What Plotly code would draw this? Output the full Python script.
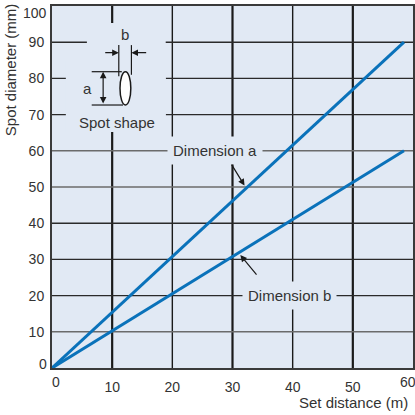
import plotly.graph_objects as go

# data
distance = [0, 58.5]
dim_a = [0, 90]
dim_b = [0, 60]

x_ticks = [0, 10, 20, 30, 40, 50, 60]
y_ticks = [0, 10, 20, 30, 40, 50, 60, 70, 80, 90, 100]
# labels at the axis ends are nudged inwards, drawn separately
x_ticktext = ["" if v in (0, 60) else str(v) for v in x_ticks]
y_ticktext = ["" if v in (0, 100) else str(v) for v in y_ticks]

BG = "#e1e9f4"
INK = "#333333"
BLUE = "#0a72ba"
FONT = "Liberation Sans"

fig = go.Figure()
fig.add_trace(go.Scatter(x=distance, y=dim_a, mode="lines", line=dict(color=BLUE, width=3),
                         name="Dimension a", hoverinfo="skip"))
fig.add_trace(go.Scatter(x=distance, y=dim_b, mode="lines", line=dict(color=BLUE, width=3),
                         name="Dimension b", hoverinfo="skip"))

shapes = []
# grid lines
for v in x_ticks[1:-1]:
    w = 2.2 if v in (10, 30, 50) else 1.4
    shapes.append(dict(type="line", x0=v, x1=v, y0=0, y1=100, layer="below",
                       line=dict(color="#1a1a1a", width=w)))
for v in y_ticks[1:-1]:
    c = "#6b6b6b" if v in (10, 50, 60) else "#2a2a2a"
    shapes.append(dict(type="line", x0=0, x1=60, y0=v, y1=v, layer="below",
                       line=dict(color=c, width=1.4)))
# mask behind the spot-shape inset
shapes.append(dict(type="rect", x0=5.8, x1=18.9, y0=65.2, y1=95.3, layer="below",
                   fillcolor=BG, line=dict(width=0)))
shapes.append(dict(type="rect", x0=2.3, x1=18.9, y0=65.2, y1=85, layer="below",
                   fillcolor=BG, line=dict(width=0)))
# inset drawing
ink = dict(color="#1a1a1a", width=1.2)
shapes += [
    dict(type="circle", x0=11.3, x1=13.1, y0=72.65, y1=81.85, fillcolor="white",
         line=dict(color="#1a1a1a", width=1.5)),
    dict(type="line", x0=6.6, x1=11.6, y0=81.85, y1=81.85, line=ink),
    dict(type="line", x0=6.6, x1=11.8, y0=72.65, y1=72.65, line=ink),
    dict(type="line", x0=11.1, x1=11.1, y0=80.6, y1=89.2, line=ink),
    dict(type="line", x0=13.2, x1=13.2, y0=81.0, y1=89.2, line=ink),
]

arrow = dict(showarrow=True, arrowhead=2, arrowsize=1.1, arrowwidth=1.2, arrowcolor="#1a1a1a",
             axref="x", ayref="y", text="")
txt = dict(family=FONT, size=15, color=INK)
tick_font = dict(family=FONT, size=14, color=INK)
annotations = [
    dict(x=8.5, y=81.85, ax=8.5, ay=72.65, arrowside="end+start", **arrow),
    dict(x=11.1, y=87.1, ax=8.6, ay=87.1, **arrow),
    dict(x=13.2, y=87.1, ax=15.9, ay=87.1, **arrow),
    dict(x=12.1, y=92.0, text="b", showarrow=False, font=txt),
    dict(x=5.9, y=77.1, text="a", showarrow=False, font=txt),
    dict(x=10.8, y=67.8, text="Spot shape", showarrow=False, font=txt),
    dict(x=27.1, y=60, text="Dimension a", showarrow=False, font=txt,
         bgcolor=BG, borderpad=5),
    dict(x=39.5, y=20, text="Dimension b", showarrow=False, font=txt,
         bgcolor=BG, borderpad=5),
    dict(x=32.0, y=50.4, ax=29.7, ay=56.6, **arrow),
    dict(x=31.3, y=31.2, ax=34.2, ay=25.4, **arrow),
    # end tick labels
    dict(xref="paper", x=0, y=y_ticks[-1], xanchor="right", yanchor="middle", xshift=-3,
         yshift=-7, text=str(y_ticks[-1]), showarrow=False, font=tick_font),
    dict(xref="paper", x=0, y=y_ticks[0], xanchor="right", yanchor="middle", xshift=-3,
         yshift=4, text=str(y_ticks[0]), showarrow=False, font=tick_font),
    dict(yref="paper", x=x_ticks[0], y=0, xanchor="center", yanchor="middle", xshift=4,
         yshift=-14, text=str(x_ticks[0]), showarrow=False, font=tick_font),
    dict(yref="paper", x=x_ticks[-1], y=0, xanchor="center", yanchor="middle", xshift=-5,
         yshift=-14, text=str(x_ticks[-1]), showarrow=False, font=tick_font),
    # axis titles
    dict(xref="paper", yref="paper", x=-0.116, y=0.823, xanchor="center", yanchor="middle",
         text="Spot diameter (mm)", textangle=-90, showarrow=False, font=txt),
    dict(xref="paper", yref="paper", x=0.992, y=-0.095, xanchor="right", yanchor="middle",
         text="Set distance (m)", showarrow=False, font=txt),
]

fig.update_layout(
    width=415, height=415,
    margin=dict(l=52, r=2, t=6, b=47, autoexpand=False),
    paper_bgcolor="white", plot_bgcolor=BG,
    showlegend=False,
    shapes=shapes, annotations=annotations,
    font=dict(family=FONT, size=14, color=INK),
)
fig.update_xaxes(range=[0, 60], tickvals=x_ticks, ticktext=x_ticktext, showgrid=False,
                 zeroline=False, showline=True, mirror=True, linecolor="#3a3a3a", linewidth=2,
                 ticks="", ticklabelstandoff=5, automargin=False, ticklabeloverflow="allow")
fig.update_yaxes(range=[0, 100], tickvals=y_ticks, ticktext=y_ticktext, showgrid=False,
                 zeroline=False, showline=True, mirror=True, linecolor="#3a3a3a", linewidth=2,
                 ticks="", ticklabelstandoff=3, automargin=False, ticklabeloverflow="allow")

fig.write_html("out.html", config={"displayModeBar": False},
               post_script="document.body.style.margin='0';")
